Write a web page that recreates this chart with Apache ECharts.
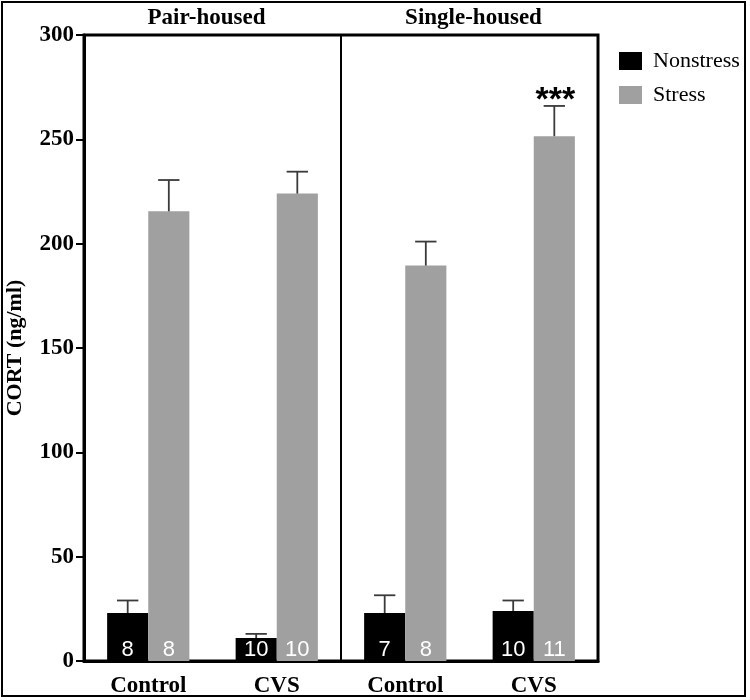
<!DOCTYPE html>
<html><head><meta charset="utf-8">
<script src="https://cdn.jsdelivr.net/npm/echarts@6/dist/echarts.min.js"></script>
<style>html,body{margin:0;padding:0;background:#fff}#c{width:750px;height:700px}</style>
</head><body><div id="c"></div>
<script>
var categories = ['Control', 'CVS', 'Control', 'CVS'];
var panelTitles = ['Pair-housed', 'Single-housed'];
var yTicks = [0, 50, 100, 150, 200, 250, 300];
var nonstressMean = [23, 11, 23, 24];
var nonstressUpper = [29, 13, 31.5, 29];
var stressMean = [215.5, 224, 189.5, 251.5];
var stressUpper = [230.5, 234.5, 201, 266];
var nonstressN = ['8', '10', '7', '10'];
var stressN = ['8', '10', '8', '11'];
var stressSig = ['', '', '', '***'];

var serif = '"Liberation Serif", "DejaVu Serif", serif';
var sans = '"Liberation Sans", Arial, sans-serif';

var chart = echarts.init(document.getElementById('c'), null, {renderer: 'canvas'});

function errData(means, uppers, side, sig) {
  return means.map(function (m, i) { return [i, m, uppers[i], side, sig ? sig[i] : '']; });
}
function errRender(params, api) {
  var i = api.value(0);
  var band = api.size([1, 0])[0];
  var side = api.value(3);
  var off = side * band * 0.16;
  var pm = api.coord([i, api.value(1)]);
  var pu = api.coord([i, api.value(2)]);
  var x = pm[0] + off;
  var cap = band * 0.083;
  var children = [
    {type: 'line', shape: {x1: x, y1: pm[1], x2: x, y2: pu[1]}, style: {stroke: '#3a3a3a', lineWidth: 1.8}},
    {type: 'line', shape: {x1: x - cap, y1: pu[1], x2: x + cap, y2: pu[1]}, style: {stroke: '#3a3a3a', lineWidth: 1.8}}
  ];
  var s = api.value(4);
  if (s) {
    children.push({type: 'text', x: x + 1, y: pu[1] + 12, style: {text: s, fill: '#000', font: 'bold 34px ' + sans, align: 'center', verticalAlign: 'bottom'}});
  }
  return {type: 'group', children: children};
}

var option = {
  animation: false,
  backgroundColor: '#fff',
  grid: {left: 84, right: 152, top: 35, bottom: 39, containLabel: false, outerBoundsMode: 'none',
    show: true, borderColor: '#000', borderWidth: 3, backgroundColor: 'transparent'},
  legend: {
    orient: 'vertical', left: 614, top: 45, itemWidth: 23, itemHeight: 18, itemGap: 12,
    icon: 'rect',
    textStyle: {fontFamily: serif, fontSize: 22, color: '#000', padding: [0, 0, 0, 6]},
    data: ['Nonstress', 'Stress']
  },
  xAxis: {
    type: 'category', data: categories,
    axisLine: {lineStyle: {color: '#000', width: 3}},
    axisTick: {alignWithLabel: true, length: 10, lineStyle: {color: '#000', width: 3}},
    axisLabel: {color: '#000', fontFamily: serif, fontWeight: 'bold', fontSize: 23, margin: 14}
  },
  yAxis: {
    type: 'value', min: 0, max: 300, interval: 50,
    name: 'CORT (ng/ml)', nameLocation: 'middle', nameGap: 58, nameRotate: 90,
    nameTextStyle: {color: '#000', fontFamily: serif, fontWeight: 'bold', fontSize: 22},
    axisLine: {show: true, lineStyle: {color: '#000', width: 3}},
    axisTick: {show: true, length: 8, lineStyle: {color: '#000', width: 2}},
    axisLabel: {color: '#000', fontFamily: serif, fontWeight: 'bold', fontSize: 23, margin: 10,
      formatter: function (v) { return yTicks.indexOf(v) >= 0 ? String(v) : ''; }},
    splitLine: {show: false}
  },
  series: [
    {name: 'Nonstress', type: 'bar', data: nonstressMean, barWidth: '32%', barGap: '0%',
      itemStyle: {color: '#000'},
      label: {show: true, position: 'insideBottom', distance: 0, color: '#fff', fontFamily: sans, fontSize: 22,
        formatter: function (p) { return nonstressN[p.dataIndex]; }}},
    {name: 'Stress', type: 'bar', data: stressMean, barWidth: '32%', barGap: '0%',
      itemStyle: {color: '#a0a0a0'},
      label: {show: true, position: 'insideBottom', distance: 0, color: '#fff', fontFamily: sans, fontSize: 22,
        formatter: function (p) { return stressN[p.dataIndex]; }}},
    {type: 'custom', renderItem: errRender, data: errData(nonstressMean, nonstressUpper, -1), encode: {x: 0, y: [1, 2]}, z: 5},
    {type: 'custom', renderItem: errRender, data: errData(stressMean, stressUpper, 1, stressSig), encode: {x: 0, y: [1, 2]}, z: 5}
  ]
};
chart.setOption(option);

var px0 = chart.convertToPixel({xAxisIndex: 0}, 0);
var px1 = chart.convertToPixel({xAxisIndex: 0}, 1);
var px2 = chart.convertToPixel({xAxisIndex: 0}, 2);
var px3 = chart.convertToPixel({xAxisIndex: 0}, 3);
var divX = (px1 + px2) / 2;
var yTopPx = chart.convertToPixel({yAxisIndex: 0}, 300);
var yBotPx = chart.convertToPixel({yAxisIndex: 0}, 0);
chart.setOption({
  graphic: [
    {type: 'line', shape: {x1: divX, y1: yTopPx, x2: divX, y2: yBotPx}, style: {stroke: '#000', lineWidth: 2}, z: 10},
    {type: 'text', x: (px0 + px1) / 2 - 6, y: 18, style: {text: panelTitles[0], font: 'bold 23px ' + serif, fill: '#000', align: 'center', verticalAlign: 'middle'}},
    {type: 'text', x: (px2 + px3) / 2 + 4, y: 18, style: {text: panelTitles[1], font: 'bold 23px ' + serif, fill: '#000', align: 'center', verticalAlign: 'middle'}},
    {type: 'rect', shape: {x: 2, y: 2, width: 743, height: 694}, style: {fill: 'none', stroke: '#000', lineWidth: 2}}
  ]
});
</script>
</body></html>
